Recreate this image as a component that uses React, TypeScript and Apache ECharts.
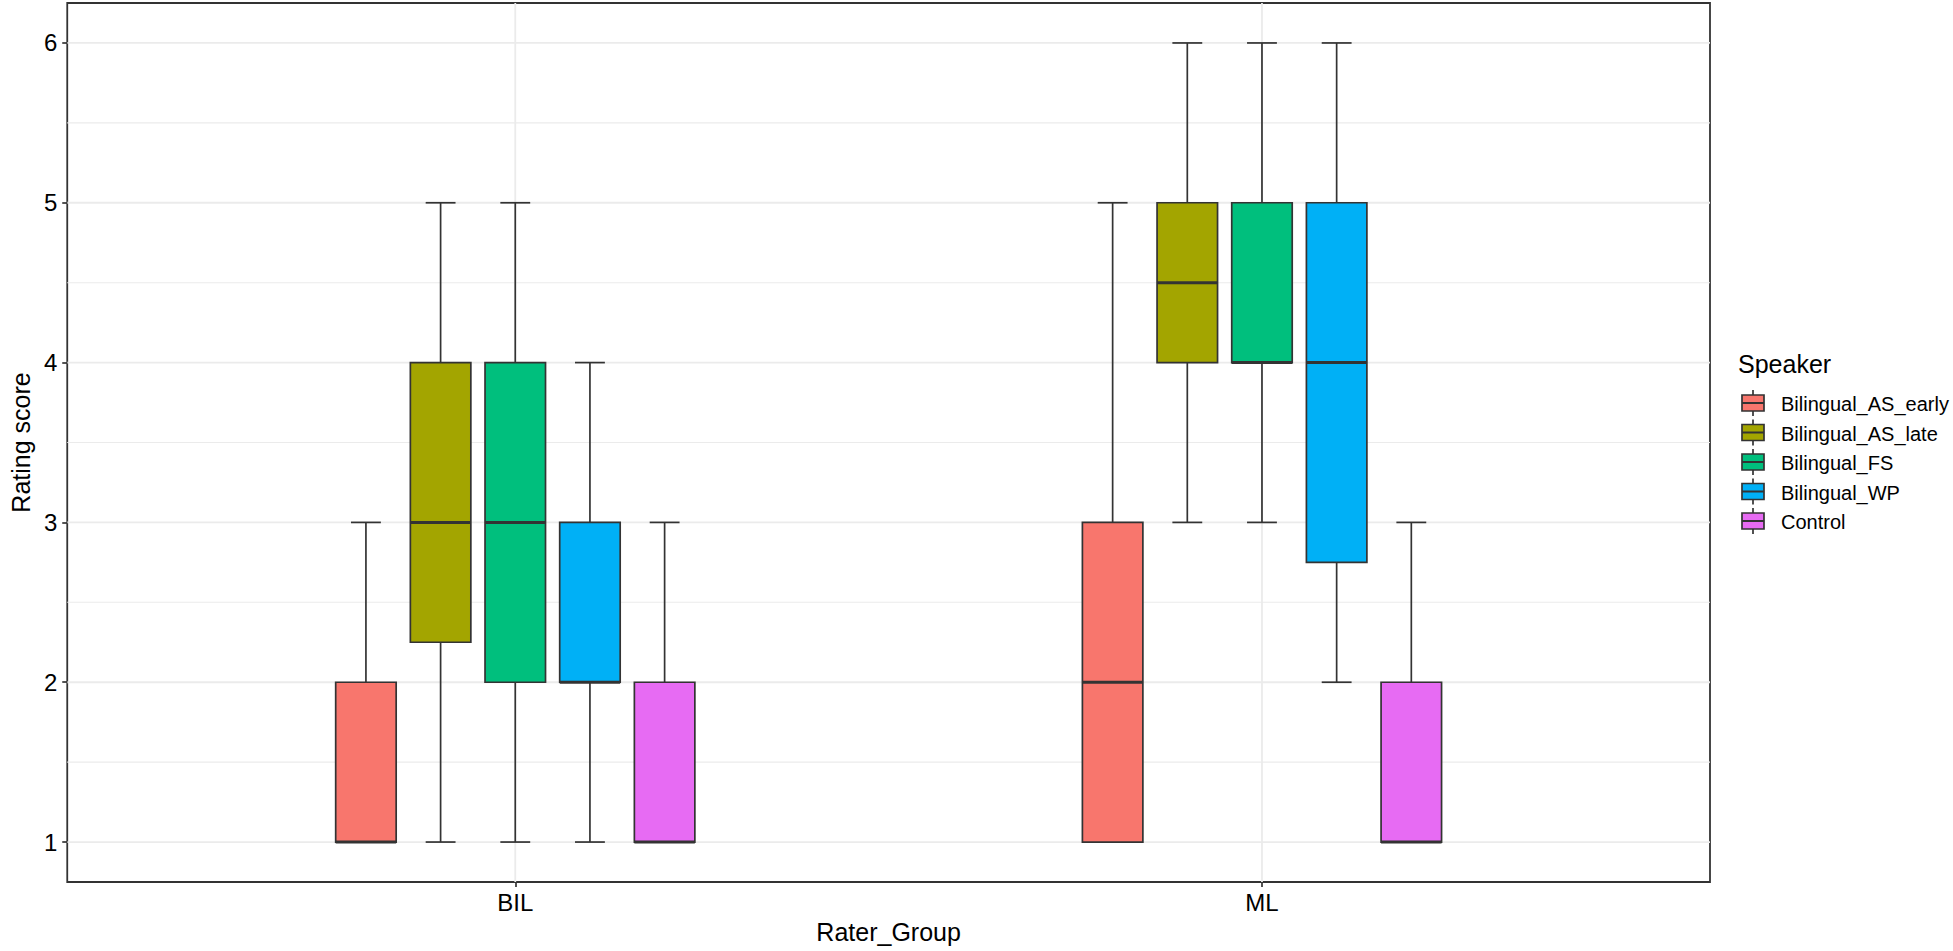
import React, { useEffect, useRef } from "react";
import * as echarts from "echarts";

// ---- data ----
const groups = ["BIL", "ML"];
const speakers = ["Bilingual_AS_early", "Bilingual_AS_late", "Bilingual_FS", "Bilingual_WP", "Control"];
const colors = ["#F8766D", "#A3A500", "#00BF7D", "#00B0F6", "#E76BF3"];
// [min, q1, median, q3, max] for BIL then ML
const asEarly = [[1, 1, 1, 2, 3], [1, 1, 2, 3, 5]];
const asLate = [[1, 2.25, 3, 4, 5], [3, 4, 4.5, 5, 6]];
const fs = [[1, 2, 3, 4, 5], [3, 4, 4, 5, 6]];
const wp = [[1, 2, 2, 3, 4], [2, 2.75, 4, 5, 6]];
const control = [[1, 1, 1, 2, 3], [1, 1, 1, 2, 3]];
const seriesStats = [asEarly, asLate, fs, wp, control];
const yTicks = [1, 2, 3, 4, 5, 6];
const yMinor = [1.5, 2.5, 3.5, 4.5, 5.5];
const xTicks = [1, 2];

const FONT = "'Liberation Sans', Arial, sans-serif";
const DODGE = 0.1;
const BOX_W = 0.081;
const CAP_W = 0.04;
const X_MIN = 0.4, X_MAX = 2.6, Y_MIN = 0.75, Y_MAX = 6.25;
const INK = "#333333";
const LW = 1.7;

export default function App() {
  const ref = useRef<HTMLDivElement>(null);
  useEffect(() => {
    const chart = echarts.init(ref.current!, null, { renderer: "svg" });

    const gridData = [
      ...yTicks.map((v) => ["h", v, 1.8]),
      ...yMinor.map((v) => ["h", v, 1.1]),
      ...xTicks.map((v) => ["v", v, 1.8]),
    ];

    const gridSeries: any = {
      type: "custom",
      name: "grid",
      silent: true,
      z: 0,
      data: gridData.map((d, i) => [i, d[1]]),
      encode: { x: -1, y: -1 },
      renderItem: (params: any, api: any) => {
        const d = gridData[params.dataIndex];
        const v = d[1] as number;
        let p1, p2;
        if (d[0] === "h") {
          p1 = api.coord([X_MIN, v]);
          p2 = api.coord([X_MAX, v]);
        } else {
          p1 = api.coord([v, Y_MIN]);
          p2 = api.coord([v, Y_MAX]);
        }
        return {
          type: "line",
          shape: { x1: p1[0], y1: p1[1], x2: p2[0], y2: p2[1] },
          style: { stroke: "#EBEBEB", lineWidth: d[2] as number },
        };
      },
    };

    const boxSeries = speakers.map((name, si) => ({
      type: "custom",
      name,
      z: 2,
      clip: false,
      itemStyle: { color: colors[si] },
      data: seriesStats[si].map((s, gi) => [gi + 1, ...s]),
      encode: { x: 0, y: [1, 2, 3, 4, 5] },
      renderItem: (params: any, api: any) => {
        const g = api.value(0);
        const lo = api.value(1), q1 = api.value(2), med = api.value(3), q3 = api.value(4), hi = api.value(5);
        const xc = g + (si - (speakers.length - 1) / 2) * DODGE;
        const c = (x: number, y: number) => api.coord([x, y]);
        const [cx, yLo] = c(xc, lo);
        const yQ1 = c(xc, q1)[1], yMed = c(xc, med)[1], yQ3 = c(xc, q3)[1], yHi = c(xc, hi)[1];
        const xL = c(xc - BOX_W / 2, q1)[0], xR = c(xc + BOX_W / 2, q1)[0];
        const cL = c(xc - CAP_W / 2, lo)[0], cR = c(xc + CAP_W / 2, lo)[0];
        const ln = (x1: number, y1: number, x2: number, y2: number, w: number) => ({
          type: "line",
          shape: { x1, y1, x2, y2 },
          style: { stroke: INK, lineWidth: w },
        });
        return {
          type: "group",
          children: [
            ln(cx, yHi, cx, yQ3, LW),
            ln(cx, yQ1, cx, yLo, LW),
            ln(cL, yHi, cR, yHi, LW),
            ln(cL, yLo, cR, yLo, LW),
            {
              type: "rect",
              shape: { x: xL, y: yQ3, width: xR - xL, height: yQ1 - yQ3 },
              style: { fill: colors[si], stroke: INK, lineWidth: LW },
            },
            ln(xL, yMed, xR, yMed, 3),
          ],
        };
      },
    }));

    // legend drawn with graphic elements
    const LX = 1742, LY0 = 403, LSTEP = 29.5;
    const legendEls: any[] = [
      {
        type: "text",
        x: 1738,
        y: 364,
        style: { text: "Speaker", font: `25px ${FONT}`, fill: "#000", textVerticalAlign: "middle", textAlign: "left" },
      },
    ];
    speakers.forEach((name, i) => {
      const cy = LY0 + i * LSTEP;
      legendEls.push(
        { type: "line", shape: { x1: LX + 11, y1: cy - 13, x2: LX + 11, y2: cy + 13 }, style: { stroke: INK, lineWidth: LW } },
        { type: "rect", shape: { x: LX, y: cy - 8, width: 22, height: 16 }, style: { fill: colors[i], stroke: INK, lineWidth: LW } },
        { type: "line", shape: { x1: LX, y1: cy, x2: LX + 22, y2: cy }, style: { stroke: INK, lineWidth: 2 } },
        {
          type: "text",
          x: 1781,
          y: cy + 1,
          style: { text: name, font: `20px ${FONT}`, fill: "#000", textVerticalAlign: "middle", textAlign: "left" },
        }
      );
    });

    chart.setOption({
      animation: false,
      backgroundColor: "#ffffff",
      textStyle: { fontFamily: FONT },
      grid: {
        left: 53,
        top: 3,
        width: 1657,
        height: 879,
        show: true,
        borderColor: INK,
        borderWidth: 1.8,
        backgroundColor: "transparent",
        containLabel: false,
      },
      xAxis: {
        type: "value",
        min: X_MIN,
        max: X_MAX,
        name: "Rater_Group",
        nameLocation: "middle",
        nameGap: 37,
        nameTextStyle: { fontSize: 25, color: "#000", fontFamily: FONT },
        axisLine: { show: false },
        splitLine: { show: false },
        axisTick: { show: true, customValues: xTicks, length: 5, lineStyle: { color: INK, width: LW } },
        axisLabel: {
          customValues: xTicks,
          margin: 8,
          fontSize: 24,
          color: "#000",
          fontFamily: FONT,
          formatter: (v: number) => groups[Math.round(v) - 1] ?? "",
        },
      },
      yAxis: {
        type: "value",
        min: Y_MIN,
        max: Y_MAX,
        name: "Rating score",
        nameLocation: "middle",
        nameGap: 31,
        nameTextStyle: { fontSize: 25, color: "#000", fontFamily: FONT },
        axisLine: { show: false },
        splitLine: { show: false },
        axisTick: { show: true, customValues: yTicks, length: 5, lineStyle: { color: INK, width: LW } },
        axisLabel: {
          customValues: yTicks,
          margin: 10,
          fontSize: 24,
          color: "#000",
          fontFamily: FONT,
          formatter: (v: number) => String(v),
        },
      },
      graphic: legendEls,
      series: [gridSeries, ...boxSeries],
    });
    return () => chart.dispose();
  }, []);
  return <div ref={ref} style={{ position: "fixed", left: 0, top: 0, width: 1953, height: 951 }} />;
}
